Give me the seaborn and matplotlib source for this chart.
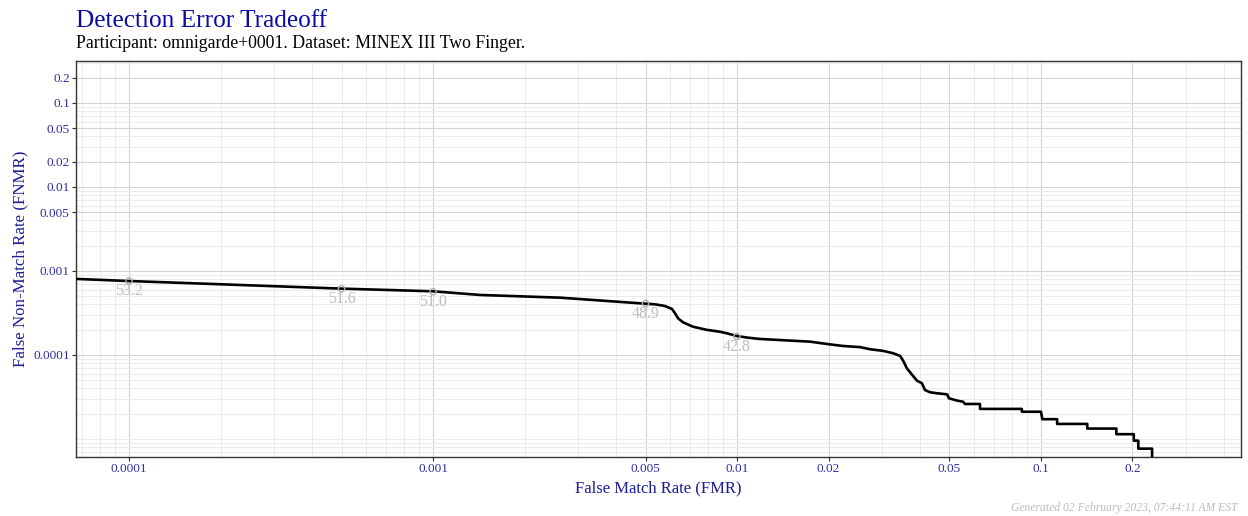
import numpy as np
import pandas as pd
import matplotlib
matplotlib.use("Agg")
import matplotlib.pyplot as plt
import matplotlib.ticker as mticker
import seaborn as sns

# ---- data ----
fmr = [6.70e-5, 9.92e-5, 1.99e-4, 5.02e-4, 1.00e-3, 1.43e-3, 2.62e-3, 4.80e-3,
       5.37e-3, 5.79e-3, 6.11e-3, 6.25e-3, 6.40e-3, 6.64e-3, 7.16e-3, 7.96e-3,
       8.79e-3, 9.27e-3, 1.00e-2, 1.08e-2, 1.19e-2, 1.74e-2, 1.98e-2, 2.23e-2,
       2.54e-2, 2.74e-2, 3.02e-2, 3.26e-2, 3.44e-2, 3.52e-2, 3.62e-2, 3.77e-2,
       3.91e-2, 4.06e-2, 4.15e-2, 4.31e-2, 4.55e-2, 4.91e-2, 4.98e-2, 5.30e-2,
       5.54e-2, 5.62e-2, 6.30e-2, 6.30e-2,
       8.65e-2, 8.65e-2, 0.100, 0.101, 0.113, 0.113, 0.142, 0.142, 0.177, 0.177,
       0.202, 0.202, 0.209, 0.209, 0.232, 0.232]
fnmr = [8.04e-4, 7.60e-4, 6.95e-4, 6.16e-4, 5.73e-4, 5.18e-4, 4.81e-4, 4.12e-4,
        4.01e-4, 3.83e-4, 3.53e-4, 3.14e-4, 2.73e-4, 2.45e-4, 2.17e-4, 1.99e-4,
        1.89e-4, 1.81e-4, 1.68e-4, 1.61e-4, 1.55e-4, 1.44e-4, 1.35e-4, 1.28e-4,
        1.24e-4, 1.17e-4, 1.12e-4, 1.05e-4, 9.73e-5, 8.55e-5, 6.95e-5, 5.78e-5,
        4.94e-5, 4.60e-5, 3.83e-5, 3.60e-5, 3.50e-5, 3.40e-5, 3.05e-5, 2.86e-5,
        2.78e-5, 2.61e-5, 2.61e-5, 2.28e-5,
        2.28e-5, 2.11e-5, 2.11e-5, 1.72e-5, 1.72e-5, 1.51e-5, 1.51e-5, 1.33e-5,
        1.33e-5, 1.14e-5, 1.14e-5, 9.55e-6, 9.55e-6, 7.67e-6, 7.67e-6, 4.0e-6]

thr_fmr = [0.0001, 0.0005, 0.001, 0.005, 0.01]
thr_fnmr = [7.60e-4, 6.14e-4, 5.65e-4, 4.10e-4, 1.66e-4]
thr_labels = ["53.2", "51.6", "51.0", "48.9", "42.8"]

x_ticks = [0.0001, 0.001, 0.005, 0.01, 0.02, 0.05, 0.1, 0.2]
x_ticklabels = ["0.0001", "0.001", "0.005", "0.01", "0.02", "0.05", "0.1", "0.2"]
y_ticks = [0.0001, 0.001, 0.005, 0.01, 0.02, 0.05, 0.1, 0.2]
y_ticklabels = ["0.0001", "0.001", "0.005", "0.01", "0.02", "0.05", "0.1", "0.2"]

title = "Detection Error Tradeoff"
subtitle = "Participant: omnigarde+0001. Dataset: MINEX III Two Finger."
xlabel = "False Match Rate (FMR)"
ylabel = "False Non-Match Rate (FNMR)"
footer = "Generated 02 February 2023, 07:44:11 AM EST"

# ---- style ----
sns.set_theme(style="white")
plt.rcParams["font.family"] = ["Liberation Serif", "DejaVu Serif"]

TITLE_C = "#0a0aa6"
LABEL_C = "#1c1c98"
TICK_C = "#2e2ea6"

fig = plt.figure(figsize=(12.48, 5.16), dpi=100)
ax = fig.add_axes([76 / 1248, 1 - 457 / 516, (1241 - 76) / 1248, (457 - 61) / 516])

curve = pd.DataFrame({"FMR": fmr, "FNMR": fnmr})
thr = pd.DataFrame({"FMR": thr_fmr, "FNMR": thr_fnmr, "label": thr_labels})

ax.set_xscale("log")
ax.set_yscale("log")

sns.lineplot(data=curve, x="FMR", y="FNMR", ax=ax, color="black", linewidth=1.9,
             sort=False, estimator=None, zorder=3)
sns.scatterplot(data=thr, x="FMR", y="FNMR", ax=ax, s=20, facecolor="none",
                edgecolor="#b0b0b0", linewidth=1.0, zorder=4)
for _, r in thr.iterrows():
    ax.annotate(r["label"], (r["FMR"], r["FNMR"]), xytext=(0, -7.5),
                textcoords="offset points", ha="center", va="center",
                fontsize=11.5, color="#bdbdbd", zorder=5)

ax.set_xlim(6.69e-5, 0.455)
ax.set_ylim(6.1e-6, 0.316)

ax.xaxis.set_major_locator(mticker.FixedLocator(x_ticks))
ax.xaxis.set_major_formatter(mticker.FixedFormatter(x_ticklabels))
ax.yaxis.set_major_locator(mticker.FixedLocator(y_ticks))
ax.yaxis.set_major_formatter(mticker.FixedFormatter(y_ticklabels))
ax.xaxis.set_minor_locator(mticker.LogLocator(base=10, subs=np.arange(1, 10), numticks=30))
ax.yaxis.set_minor_locator(mticker.LogLocator(base=10, subs=np.arange(1, 10), numticks=30))
ax.xaxis.set_minor_formatter(mticker.NullFormatter())
ax.yaxis.set_minor_formatter(mticker.NullFormatter())

ax.grid(which="minor", color="#ebebeb", linewidth=0.7, zorder=0)
ax.grid(which="major", color="#d4d4d4", linewidth=0.8, zorder=1)
ax.set_axisbelow(True)

ax.tick_params(which="major", direction="out", length=3, width=0.8, color="#333333",
               labelsize=9.5, labelcolor=TICK_C, pad=1.5, bottom=True, left=True)
ax.tick_params(which="minor", length=0)

for s in ax.spines.values():
    s.set_color("#333333")
    s.set_linewidth(1.0)

ax.set_xlabel(xlabel, fontsize=12, color=LABEL_C, labelpad=4)
ax.set_ylabel(ylabel, fontsize=12.2, color=LABEL_C, labelpad=3.5)

fig.text(76 / 1248, 1 - 27 / 516, title, fontsize=18.2, color=TITLE_C, va="baseline", ha="left")
fig.text(76 / 1248, 1 - 48 / 516, subtitle, fontsize=12.8, color="black", va="baseline", ha="left")
fig.text(1238 / 1248, 1 - 508 / 516, footer, fontsize=8.4, color="#bbbbbb",
         style="italic", ha="right", va="center")

fig.savefig("out.png", dpi=100)
